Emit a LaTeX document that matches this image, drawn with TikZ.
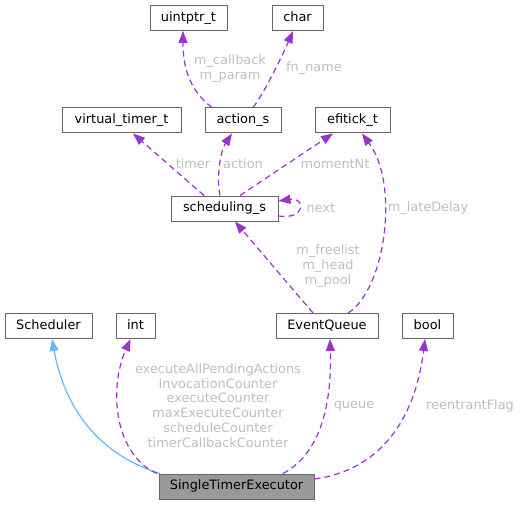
\documentclass[tikz,border=0pt]{standalone}
\usepackage{fontspec}
\setmainfont{DejaVu Sans}
\usetikzlibrary{positioning,arrows.meta}
\definecolor{usepurple}{HTML}{9A32CD}
\definecolor{inhblue}{HTML}{63B8FF}
\definecolor{boxline}{HTML}{666666}
\definecolor{mainfill}{HTML}{999999}
\definecolor{lblgray}{HTML}{BEBEBE}
\tikzset{>={Triangle[length=12pt,width=9pt]}}
\tikzset{
  cls/.style={draw=boxline, fill=white, line width=1pt, minimum height=25pt, inner sep=0pt,
    text height=9.5pt, text depth=3pt, font=\fontsize{12.9}{14.7}\selectfont},
  usage/.style={->, usepurple, line width=1.2pt, dash pattern=on 6pt off 4pt},
  inherit/.style={->, inhblue, line width=1.2pt},
  lbl/.style={text=lblgray, inner sep=0pt, align=center, font=\fontsize{12.9}{14.7}\selectfont}
}

\begin{document}
\begin{tikzpicture}[x=1pt, y=-1pt]
      \useasboundingbox (0,0) rectangle (521,505);
      \node[cls, minimum width=77pt] (uintptr) at (188.5,18) {uintptr\_t};
      \node[cls, minimum width=51pt] (chr) at (297.5,18) {char};
      \node[cls, minimum width=119pt] (vtimer) at (121.5,120.5) {virtual\_timer\_t};
      \node[cls, minimum width=76pt] (act) at (243,120.5) {action\_s};
      \node[cls, minimum width=75pt] (tick) at (352.5,120.5) {efitick\_t};
      \node[cls, minimum width=107pt] (sched) at (224.5,208.5) {scheduling\_s};
      \node[cls, minimum width=87pt] (scheduler) at (48.5,326) {Scheduler};
      \node[cls, minimum width=39pt] (int) at (135.5,326) {int};
      \node[cls, minimum width=102pt] (eq) at (327,326) {EventQueue};
      \node[cls, minimum width=51pt] (bool) at (427.5,326) {bool};
      \node[cls, fill=mainfill, minimum width=155pt] (ste) at (236.5,486.5) {SingleTimerExecutor};
      \draw[usage] ([xshift=-31pt]act.north) .. controls (192,92) and (183,72) .. ([xshift=-5.5pt]uintptr.south);
      \draw[usage] ([xshift=10pt]act.north) .. controls (265,92) and (284,52) .. ([xshift=-4.5pt]chr.south);
      \draw[usage] ([xshift=-20.5pt]sched.north) -- ([xshift=11.5pt]vtimer.south);
      \draw[usage] ([xshift=-4.5pt]sched.north) .. controls (216,176) and (221,150) .. ([xshift=-11pt]act.south);
      \draw[usage] ([xshift=15.5pt]sched.north) -- ([xshift=-19.5pt]tick.south);
      \draw[usage] ([yshift=-7.5pt]sched.east) .. controls (306,220) and (306,197) .. ([yshift=7.5pt]sched.east);
      \draw[usage] ([xshift=-14pt]eq.north) -- ([xshift=10.5pt]sched.south);
      \draw[usage] ([xshift=21pt]eq.north) .. controls (385,290) and (400,185) .. ([xshift=9.5pt]tick.south);
      \draw[inherit] ([xshift=-76.5pt]ste.north) .. controls (100,455) and (65,410) .. ([xshift=3.5pt]scheduler.south);
      \draw[usage] ([xshift=-79.5pt]ste.north) .. controls (115,455) and (108,390) .. ([xshift=-5pt]int.south);
      \draw[usage] ([xshift=46.5pt]ste.north) .. controls (318,455) and (332,410) .. ([xshift=3pt]eq.south);
      \draw[usage] ([yshift=7.5pt]ste.east) .. controls (380,470) and (415,420) .. ([xshift=-2.5pt]bool.south);
      \node[lbl] (lcb) at (230,68.5) {m\_callback\\m\_param};
      \node[lbl] (lfn) at (314,68) {fn\_name};
      \node[lbl] (ltimer) at (193,164) {timer};
      \node[lbl] (lact) at (243,164) {action};
      \node[lbl] (lmom) at (335,164) {momentNt};
      \node[lbl] (lnext) at (321,208) {next};
      \node[lbl] (llate) at (428,208) {m\_lateDelay};
      \node[lbl] (lpool) at (328,266) {m\_freelist\\m\_head\\m\_pool};
      \node[lbl] (lcnt) at (218,405.5) {executeAllPendingActions\\InvocationCounter\\executeCounter\\maxExecuteCounter\\scheduleCounter\\timerCallbackCounter};
      \node[lbl] (lqueue) at (354,406) {queue};
      \node[lbl] (lflag) at (470,406) {reentrantFlag};
    \end{tikzpicture}
\end{document}
